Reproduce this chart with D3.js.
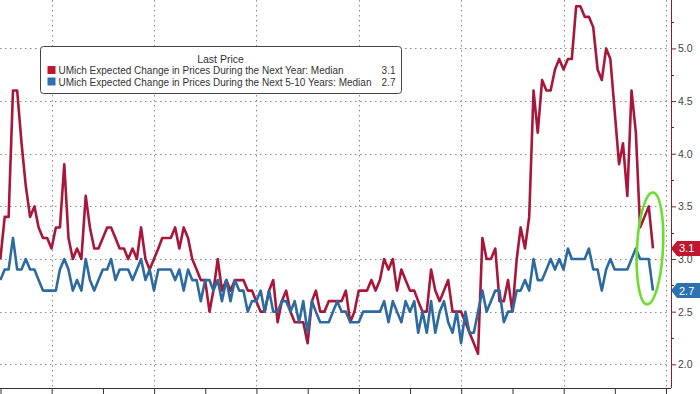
<!DOCTYPE html>
<html>
<head>
<meta charset="utf-8">
<script src="https://cdn.jsdelivr.net/npm/d3@7"></script>
<style>
html, body { margin: 0; padding: 0; background: #fff; }
svg { display: block; }
text { font-family: "Liberation Sans", Arial, sans-serif; }
</style>
</head>
<body>
<svg id="chart" width="700" height="394"></svg>
<script>
// Donnees : une valeur par mois, de dec. 2010 a sept. 2023
var moisDepart = [2010, 11];

var unAn = [
  3.0, 3.4, 3.4, 4.6, 4.6, 4.1, 3.7, 3.4, 3.5, 3.3, 3.2, 3.2, 3.1,
  3.3, 3.3, 3.9, 3.2, 3.0, 3.1, 3.0, 3.6, 3.3, 3.1, 3.1, 3.2,
  3.3, 3.3, 3.2, 3.1, 3.1, 3.0, 3.1, 3.0, 3.3, 3.0, 2.9, 3.0,
  3.1, 3.2, 3.2, 3.2, 3.3, 3.1, 3.3, 3.2, 3.0, 2.9, 2.8, 2.8,
  2.5, 2.7, 3.0, 2.7, 2.8, 2.7, 2.8, 2.8, 2.8, 2.7, 2.7, 2.6,
  2.5, 2.5, 2.7, 2.8, 2.4, 2.6, 2.7, 2.5, 2.4, 2.4, 2.4, 2.2,
  2.6, 2.7, 2.5, 2.5, 2.6, 2.6, 2.6, 2.6, 2.7, 2.4, 2.5, 2.7,
  2.7, 2.7, 2.8, 2.7, 2.8, 3.0, 2.9, 3.0, 2.7, 2.9, 2.8, 2.7,
  2.7, 2.6, 2.5, 2.5, 2.9, 2.7, 2.6, 2.7, 2.8, 2.5, 2.5, 2.5,
  2.4, 2.3, 2.2, 2.1, 3.2, 3.0, 3.0, 3.1, 2.6, 2.6, 2.8, 2.5,
  3.0, 3.3, 3.1, 3.4, 4.6, 4.2, 4.7, 4.6, 4.6, 4.8, 4.9, 4.8,
  4.9, 4.9, 5.4, 5.4, 5.3, 5.3, 5.2, 4.8, 4.7, 5.0, 4.9, 4.4,
  3.9, 4.1, 3.6, 4.6, 4.2, 3.3, 3.4, 3.5, 3.1
];

var cinqDixAns = [
  2.8, 2.9, 2.9, 3.2, 2.9, 2.9, 3.0, 2.9, 2.9, 2.8, 2.7, 2.7, 2.7,
  2.7, 2.9, 3.0, 2.9, 2.7, 2.8, 2.7, 3.0, 2.8, 2.7, 2.8, 2.9,
  2.9, 3.0, 2.8, 2.9, 2.9, 2.9, 2.8, 2.9, 3.0, 2.8, 2.9, 2.7,
  2.9, 2.9, 2.9, 2.9, 2.8, 2.9, 2.7, 2.9, 2.8, 2.8, 2.6, 2.8,
  2.8, 2.7, 2.8, 2.6, 2.8, 2.6, 2.8, 2.7, 2.7, 2.5, 2.6, 2.6,
  2.7, 2.5, 2.7, 2.5, 2.5, 2.6, 2.6, 2.5, 2.6, 2.4, 2.6, 2.3,
  2.6, 2.5, 2.4, 2.4, 2.4, 2.5, 2.6, 2.5, 2.5, 2.4, 2.4, 2.4,
  2.5, 2.5, 2.5, 2.5, 2.5, 2.6, 2.4, 2.6, 2.5, 2.4, 2.6, 2.5,
  2.6, 2.3, 2.5, 2.3, 2.6, 2.3, 2.5, 2.6, 2.4, 2.3, 2.5, 2.2,
  2.5, 2.3, 2.3, 2.5, 2.7, 2.5, 2.6, 2.7, 2.7, 2.4, 2.5, 2.5,
  2.7, 2.7, 2.8, 2.7, 3.0, 2.8, 2.8, 2.9, 3.0, 2.9, 3.0, 2.9,
  3.1, 3.0, 3.0, 3.0, 3.0, 3.1, 2.9, 2.9, 2.7, 2.9, 3.0, 2.9,
  2.9, 2.9, 2.9, 3.0, 3.1, 3.0, 3.0, 3.0, 2.7
];

var etiquettesY = [2.0, 2.5, 3.0, 3.5, 4.0, 4.5, 5.0];
var sousGraduationsY = [2.25, 2.75, 3.25, 3.75, 4.25, 4.75, 5.25];
var titreLegende = "Last Price";
var series = [
  { nom: "UMich Expected Change in Prices During the Next Year: Median", valeurs: unAn, couleur: "#a8173a", pastille: "#c0172f" },
  { nom: "UMich Expected Change in Prices During the Next 5-10 Years: Median", valeurs: cinqDixAns, couleur: "#2d6aa1", pastille: "#2d71b0" }
];

// Dates de fin de mois
function dateDuPoint (i) {
  return new Date(moisDepart[0], moisDepart[1] + i + 1, 0);
}

var svg = d3.select("#chart");
var basAxe = 388, axeDroit = 671;

var x = d3.scaleTime()
  .domain([new Date(2011, 0, 1), new Date(2024, 0, 1)])
  .range([0.5, 666]);
var y = d3.scaleLinear()
  .domain([1.775, 5.46])
  .range([basAxe, 0]);

// Grille pointillee
var grille = svg.append("g").attr("class", "grille");
grille.selectAll("line.h").data(etiquettesY).enter().append("line")
  .attr("class", "h")
  .attr("x1", 0).attr("x2", axeDroit - 3)
  .attr("y1", function (d) { return Math.round(y(d)) + 0.5; })
  .attr("y2", function (d) { return Math.round(y(d)) + 0.5; })
  .attr("stroke", "#8a8a8a").attr("stroke-width", 1)
  .attr("stroke-dasharray", "1.5,3.5");

var annees = x.ticks(d3.timeYear.every(1));
grille.selectAll("line.v").data(annees.filter(function (d) { return d.getFullYear() % 2 === 0; }))
  .enter().append("line")
  .attr("class", "v")
  .attr("x1", function (d) { return Math.round(x(d)) + 0.5; })
  .attr("x2", function (d) { return Math.round(x(d)) + 0.5; })
  .attr("y1", 0).attr("y2", basAxe)
  .attr("stroke", "#8a8a8a").attr("stroke-width", 1)
  .attr("stroke-dasharray", "1.5,3.5");

// Axe du bas
var axeX = d3.axisBottom(x).tickValues(annees).tickSize(6).tickFormat("");
var gX = svg.append("g").attr("transform", "translate(0," + basAxe + ")").call(axeX);
gX.select(".domain").attr("stroke", "#333").attr("d", "M0,0.5H" + axeDroit);
gX.selectAll(".tick line").attr("stroke", "#333");

// Courbes
var trace = d3.line()
  .x(function (d, i) { return x(dateDuPoint(i)); })
  .y(function (d) { return y(d); });

svg.append("g").selectAll("path").data(series).enter().append("path")
  .attr("d", function (s) { return trace(s.valeurs); })
  .attr("fill", "none")
  .attr("stroke", function (s) { return s.couleur; })
  .attr("stroke-width", 2.6)
  .attr("stroke-linejoin", "round");

// Axe de droite
var axeY = d3.axisRight(y).tickValues(etiquettesY).tickSize(5).tickPadding(2)
  .tickFormat(d3.format(".1f"));
var gY = svg.append("g").attr("transform", "translate(" + axeDroit + ",0)").call(axeY);
gY.select(".domain").attr("stroke", "#7d2434").attr("d", "M0.5,0V" + basAxe);
gY.selectAll(".tick line").attr("stroke", "#7d2434");
gY.selectAll(".tick text").attr("fill", "#444").attr("font-size", 10.5)
  .style("font-family", "'Liberation Sans', Arial, sans-serif");
gY.selectAll("line.mineure").data(sousGraduationsY).enter().append("line")
  .attr("class", "mineure")
  .attr("x1", 0).attr("x2", 3)
  .attr("y1", function (d) { return Math.round(y(d)) + 0.5; })
  .attr("y2", function (d) { return Math.round(y(d)) + 0.5; })
  .attr("stroke", "#7d2434");

// Etiquettes de derniere valeur
var etiquettes = svg.append("g").selectAll("g").data(series).enter().append("g")
  .attr("transform", function (s) { return "translate(" + axeDroit + "," + y(s.valeurs[s.valeurs.length - 1]) + ")"; });
etiquettes.append("path")
  .attr("d", "M0,0L6,-7.5H29V7.5H6Z")
  .attr("fill", function (s) { return s.pastille; });
etiquettes.append("text")
  .attr("x", 8).attr("y", 4)
  .attr("fill", "#fff").attr("font-size", 11)
  .text(function (s) { return d3.format(".1f")(s.valeurs[s.valeurs.length - 1]); });

// Cercle vert autour des derniers points
var dernier = dateDuPoint(unAn.length - 1);
svg.append("ellipse")
  .attr("cx", x(dernier) - 3).attr("cy", y(3.1))
  .attr("rx", 13).attr("ry", 56)
  .attr("transform", "rotate(3," + (x(dernier) - 3) + "," + y(3.1) + ")")
  .attr("fill", "none").attr("stroke", "#6add2e").attr("stroke-width", 2.6);

// Legende
var legende = svg.append("g").attr("transform", "translate(40.5,46.5)");
legende.append("rect")
  .attr("width", 361).attr("height", 47).attr("rx", 3)
  .attr("fill", "#fff").attr("stroke", "#444").attr("stroke-width", 1);
legende.append("text")
  .attr("x", 180).attr("y", 16).attr("text-anchor", "middle")
  .attr("fill", "#333").attr("font-size", 10.5)
  .text(titreLegende);
var lignes = legende.selectAll("g.item").data(series).enter().append("g")
  .attr("class", "item")
  .attr("transform", function (s, i) { return "translate(0," + (i * 11.5) + ")"; });
lignes.append("rect")
  .attr("x", 7).attr("y", 19.5).attr("width", 8).attr("height", 8)
  .attr("fill", function (s) { return s.pastille; });
lignes.append("text")
  .attr("x", 18).attr("y", 27.5)
  .attr("fill", "#333").attr("font-size", 10)
  .text(function (s) { return s.nom; });
lignes.append("text")
  .attr("x", 355).attr("y", 27.5).attr("text-anchor", "end")
  .attr("fill", "#333").attr("font-size", 10)
  .text(function (s) { return d3.format(".1f")(s.valeurs[s.valeurs.length - 1]); });
</script>
</body>
</html>
